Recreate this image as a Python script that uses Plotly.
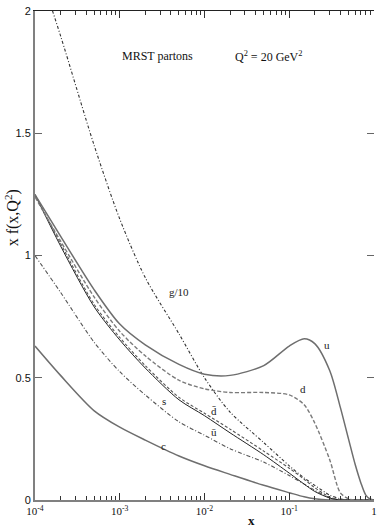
import math

import plotly.graph_objects as go

# x grid shared by all parton curves
x_vals = [1e-4, 2e-4, 5e-4, 1e-3, 2e-3, 5e-3, 0.01, 0.02, 0.05, 0.1,
          0.15, 0.2, 0.3, 0.4, 0.5, 0.6, 0.7, 0.8, 0.9, 1.0]

# x f(x, Q^2)
u_vals = [1.25, 1.08, 0.86, 0.72, 0.635, 0.555, 0.515, 0.51, 0.55, 0.63,
          0.66, 0.64, 0.53, 0.38, 0.25, 0.145, 0.07, 0.02, 0.004, 0.0]
d_vals = [1.24, 1.06, 0.83, 0.69, 0.59, 0.49, 0.455, 0.44, 0.44, 0.43,
          0.39, 0.315, 0.165, 0.03, 0.005, 0.0, 0.0, 0.0, 0.0, 0.0]
dbar_vals = [1.25, 1.05, 0.80, 0.665, 0.55, 0.42, 0.355, 0.29, 0.20, 0.13,
             0.085, 0.05, 0.012, 0.0, 0.0, 0.0, 0.0, 0.0, 0.0, 0.0]
ubar_vals = [1.25, 1.04, 0.79, 0.655, 0.54, 0.41, 0.345, 0.275, 0.185, 0.11,
             0.065, 0.035, 0.008, 0.0, 0.0, 0.0, 0.0, 0.0, 0.0, 0.0]
s_vals = [1.0, 0.85, 0.645, 0.525, 0.43, 0.32, 0.265, 0.21, 0.155, 0.10,
          0.065, 0.04, 0.01, 0.0, 0.0, 0.0, 0.0, 0.0, 0.0, 0.0]
c_vals = [0.63, 0.51, 0.365, 0.298, 0.245, 0.18, 0.14, 0.105, 0.06, 0.03,
          0.013, 0.005, 0.0, 0.0, 0.0, 0.0, 0.0, 0.0, 0.0, 0.0]
g10_vals = [2.22, 1.9, 1.45, 1.15, 0.91, 0.68, 0.5, 0.36, 0.235, 0.14,
            0.09, 0.06, 0.02, 0.005, 0.0, 0.0, 0.0, 0.0, 0.0, 0.0]

x_tickvals = [1e-4, 1e-3, 1e-2, 1e-1, 1]
x_ticktext = ["10<sup>-4</sup>", "10<sup>-3</sup>", "10<sup>-2</sup>",
              "10<sup>-1</sup>", "1"]
y_tickvals = [0, 0.5, 1, 1.5, 2]
y_ticktext = ["0", "0.5", "1", "1.5", "2"]

# curve labels: (text, x, y)
curve_labels = [
    ("g/10", 0.005, 0.85),
    ("u", 0.28, 0.635),
    ("d", 0.144, 0.453),
    ("d\u0304", 0.0131, 0.366),
    ("\u016b", 0.0131, 0.277),
    ("s", 0.0033, 0.404),
    ("c", 0.0033, 0.222),
]

minor_vals = [m * 10.0 ** e for e in range(-4, 0) for m in range(2, 10)]

SERIF = "Liberation Serif, Times New Roman, serif"

fig = go.Figure()


def add_curve(y, color, width, dash):
    fig.add_trace(go.Scatter(
        x=x_vals, y=y, mode="lines",
        line=dict(color=color, width=width, dash=dash, shape="spline", smoothing=0.8),
        showlegend=False, hoverinfo="skip"
    ))


add_curve(g10_vals, "#333333", 1.1, "3px,2px,1px,2px")
add_curve(c_vals, "#6e6e6e", 1.5, "solid")
add_curve(s_vals, "#555555", 1.1, "4px,2px,1px,2px")
add_curve(ubar_vals, "#222222", 1.0, "solid")
add_curve(dbar_vals, "#555555", 1.1, "3px,2px")
add_curve(d_vals, "#7a7a7a", 1.4, "4px,2px")
add_curve(u_vals, "#6e6e6e", 1.5, "solid")

# invisible trace so the mirrored top / right axes get drawn
fig.add_trace(go.Scatter(
    x=[1e-2], y=[1], xaxis="x2", yaxis="y2", mode="markers",
    marker=dict(opacity=0), showlegend=False, hoverinfo="skip"
))

# annotations on a log axis take log10 positions
for text, xv, yv in curve_labels:
    fig.add_annotation(
        x=math.log10(xv), y=yv, xref="x", yref="y", text=text, showarrow=False,
        font=dict(family=SERIF, size=11, color="#222222")
    )

fig.add_annotation(
    x=-2.56, y=1.815, xref="x", yref="y", text="MRST partons", showarrow=False,
    font=dict(family=SERIF, size=12, color="#111111")
)
fig.add_annotation(
    x=-1.25, y=1.815, xref="x", yref="y", text="Q<sup>2</sup> = 20 GeV<sup>2</sup>",
    showarrow=False, font=dict(family=SERIF, size=12, color="#111111")
)
fig.add_annotation(
    x=-1.45, y=0, xref="x", yref="paper", yshift=-20, xanchor="center",
    yanchor="middle", text="<b>x</b>",
    showarrow=False, font=dict(family=SERIF, size=13, color="#111111")
)
fig.add_annotation(
    x=0, y=0.576, xref="paper", yref="paper", xshift=-23, xanchor="center",
    yanchor="middle", textangle=-90,
    text="x f(x,Q<sup>2</sup>)", showarrow=False,
    font=dict(family=SERIF, size=16, color="#111111")
)

fig.update_layout(
    width=382, height=530,
    margin=dict(l=35, r=5, t=5, b=30),
    plot_bgcolor="white",
    paper_bgcolor="white",
    xaxis=dict(
        type="log", range=[-4, 0],
        tickvals=x_tickvals, ticktext=x_ticktext,
        ticks="inside", ticklen=7, tickwidth=1, tickcolor="#333333",
        minor=dict(tickvals=minor_vals, ticks="inside", ticklen=4,
                   tickwidth=1, tickcolor="#333333"),
        showline=True, linecolor="#808080", linewidth=2,
        showgrid=False, zeroline=False, ticklabeloverflow="allow",
        tickfont=dict(family=SERIF, size=11, color="#111111")
    ),
    xaxis2=dict(
        type="log", range=[-4, 0], overlaying="x", side="top", anchor="y",
        tickvals=x_tickvals, showticklabels=False,
        ticks="inside", ticklen=7, tickwidth=1, tickcolor="#333333",
        minor=dict(tickvals=minor_vals, ticks="inside", ticklen=4,
                   tickwidth=1, tickcolor="#333333"),
        showline=True, linecolor="#222222", linewidth=1,
        showgrid=False, zeroline=False
    ),
    yaxis=dict(
        range=[0, 2.001], tickvals=y_tickvals, ticktext=y_ticktext,
        ticks="inside", ticklen=7, tickwidth=1, tickcolor="#666666",
        showline=True, linecolor="#808080", linewidth=2,
        showgrid=False, zeroline=False, ticklabeloverflow="allow",
        tickfont=dict(family="Liberation Sans, Arial, sans-serif", size=11, color="#111111")
    ),
    yaxis2=dict(
        range=[0, 2.001], overlaying="y", side="right", anchor="x",
        tickvals=y_tickvals, showticklabels=False,
        ticks="inside", ticklen=7, tickwidth=1, tickcolor="#666666",
        showline=False, showgrid=False, zeroline=False
    ),
)

# the page's default body margin would shift the figure by 8px
fig.write_html("out.html", config={"displayModeBar": False},
               post_script="document.body.style.margin='0';")
